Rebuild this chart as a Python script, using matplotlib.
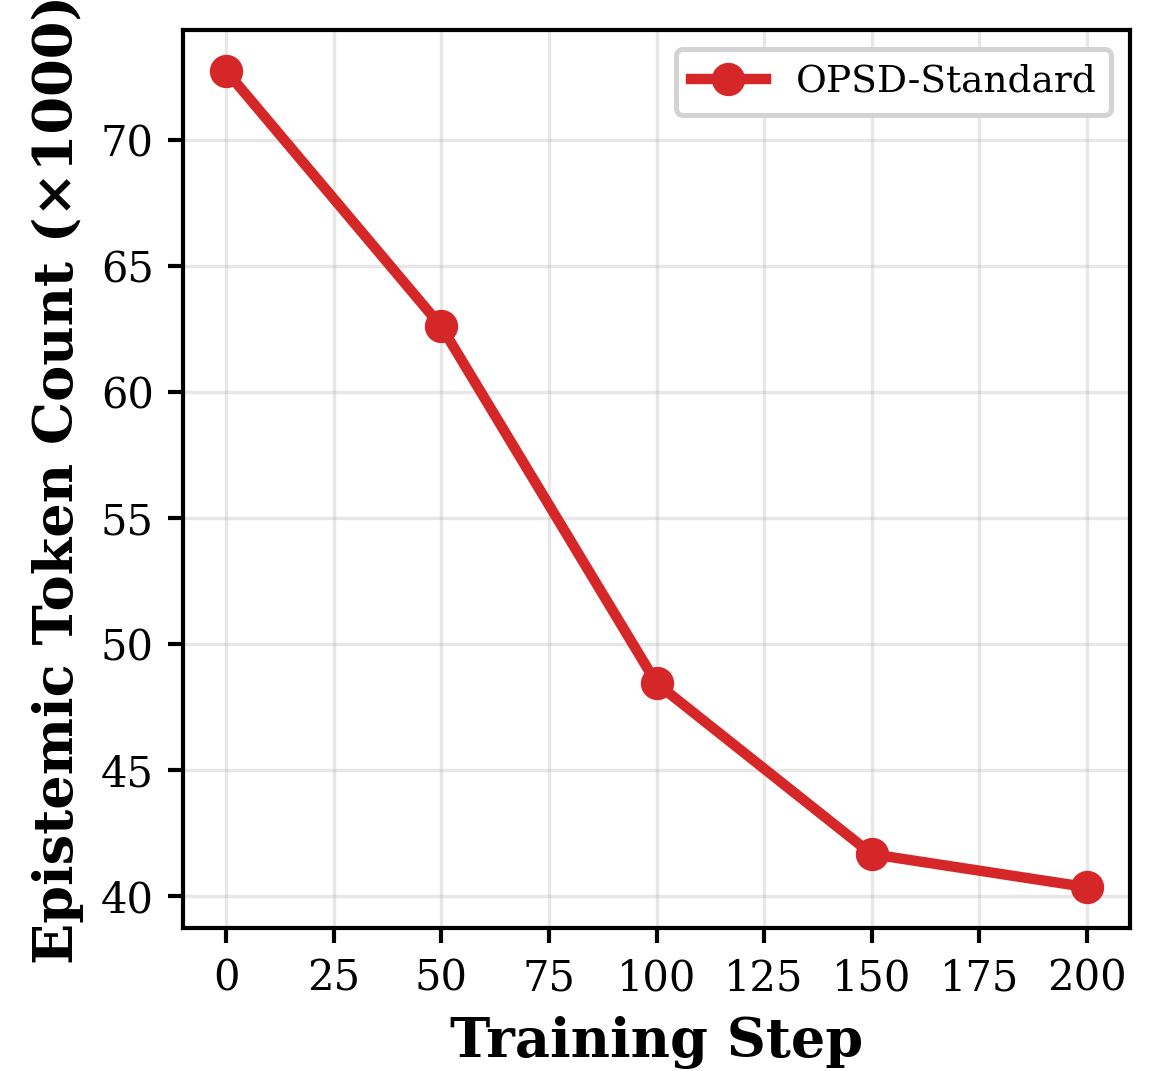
import matplotlib
matplotlib.use("Agg")
import matplotlib.pyplot as plt

steps = [0, 50, 100, 150, 200]
counts = [72.73, 62.59, 48.44, 41.66, 40.35]
series_label = "OPSD-Standard"

plt.rcParams['font.family'] = ['DejaVu Serif']

fig = plt.figure(figsize=(1160/300, 1071/300), dpi=300)
ax = fig.add_axes([183/1160, 1-928/1071, (1130-183)/1160, (928-30)/1071])

ax.plot(steps, counts, color='#d62728', marker='o', linewidth=2.5, markersize=7, label=series_label)
ax.grid(True, alpha=0.3, linewidth=0.8)
ax.set_xticks([0, 25, 50, 75, 100, 125, 150, 175, 200])
ax.tick_params(labelsize=10, width=1.0, length=3.5)
for s in ax.spines.values():
    s.set_linewidth(1.0)
ax.set_xlabel("Training Step", fontsize=13, fontweight='bold')
ax.set_ylabel("Epistemic Token Count (×1000)", fontsize=13, fontweight='bold')
leg = ax.legend(loc='upper right', fontsize=9, framealpha=1.0)
leg.get_frame().set_edgecolor('#d3d3d3')
leg.get_frame().set_linewidth(1.2)

fig.savefig("out.png", dpi=300)
